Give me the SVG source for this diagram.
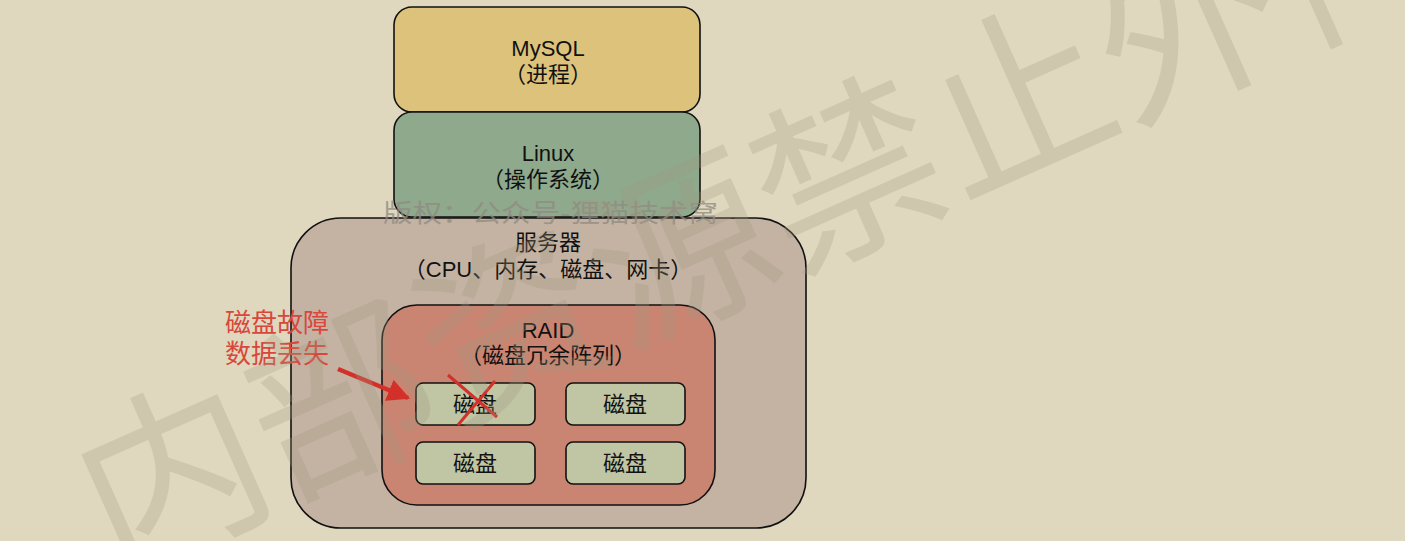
<svg xmlns="http://www.w3.org/2000/svg" width="1405" height="541" viewBox="0 0 1405 541">
<style>
.box{stroke:#111;stroke-width:1.6}
.t{font-family:"Liberation Sans","Noto Sans CJK SC",sans-serif;font-size:22px;fill:#111;text-anchor:middle}
.red{font-family:"Liberation Sans","Noto Sans CJK SC",sans-serif;font-size:26px;fill:#d9473c}
.wm{font-family:"Noto Sans CJK SC",sans-serif;font-size:185px;fill:#a39880;opacity:0.28}
</style>
<defs>
<marker id="ah" markerWidth="5" markerHeight="5" refX="4.5" refY="2.5" orient="auto" markerUnits="strokeWidth">
<path d="M0,0 L5,2.5 L0,5 Z" fill="#d3302a"/>
</marker>
</defs>
<rect width="1405" height="541" fill="#dfd8bf"/>
<g id="mysql">
<rect class="box" x="394" y="7" width="306" height="105" rx="18" fill="#dcc27a"/>
<text class="t" x="548" y="56">MySQL</text>
<text class="t" x="548" y="82">（进程）</text>
</g>
<g id="linux">
<rect class="box" x="394" y="112" width="306" height="105" rx="18" fill="#8fa98d"/>
<text class="t" x="548" y="161">Linux</text>
<text class="t" x="548" y="187">（操作系统）</text>
</g>
<g id="server">
<rect class="box" x="291" y="218" width="515" height="310" rx="50" fill="#c4b3a3"/>
<text class="t" x="548" y="250">服务器</text>
<text class="t" x="548" y="277">（CPU、内存、磁盘、网卡）</text>
</g>
<g id="raid">
<rect class="box" x="382" y="305" width="333" height="200" rx="35" fill="#c98572"/>
<text class="t" x="548" y="338">RAID</text>
<text class="t" x="548" y="363">（磁盘冗余阵列）</text>
</g>
<g id="disk1">
<rect class="box" x="416" y="383" width="119" height="42" rx="7" fill="#c0c5a3"/>
<text class="t" x="475" y="412">磁盘</text>
</g>
<g id="disk2">
<rect class="box" x="566" y="383" width="119" height="42" rx="7" fill="#c0c5a3"/>
<text class="t" x="625" y="412">磁盘</text>
</g>
<g id="disk3">
<rect class="box" x="416" y="442" width="119" height="42" rx="7" fill="#c0c5a3"/>
<text class="t" x="475" y="471">磁盘</text>
</g>
<g id="disk4">
<rect class="box" x="566" y="442" width="119" height="42" rx="7" fill="#c0c5a3"/>
<text class="t" x="625" y="471">磁盘</text>
</g>
<g id="fault">
<text class="red" x="225" y="332">磁盘故障</text>
<text class="red" x="225" y="363">数据丢失</text>
</g>
<g id="connectors">
<line x1="338" y1="369" x2="408" y2="398" stroke="#d3302a" stroke-width="4.5" marker-end="url(#ah)"/>
<line x1="448" y1="375" x2="497" y2="417" stroke="#d3302a" stroke-width="3"/>
<line x1="495" y1="381" x2="458" y2="425" stroke="#d3302a" stroke-width="3"/>
</g>
<text x="383" y="222" font-family="Noto Sans CJK SC,sans-serif" font-size="25" fill="#8f8a80" opacity="0.75" textLength="335" lengthAdjust="spacingAndGlyphs">版权：公众号-狸猫技术窝</text>
<text class="wm" transform="translate(115,575) rotate(-24)">内部资源禁止外传</text>
</svg>
